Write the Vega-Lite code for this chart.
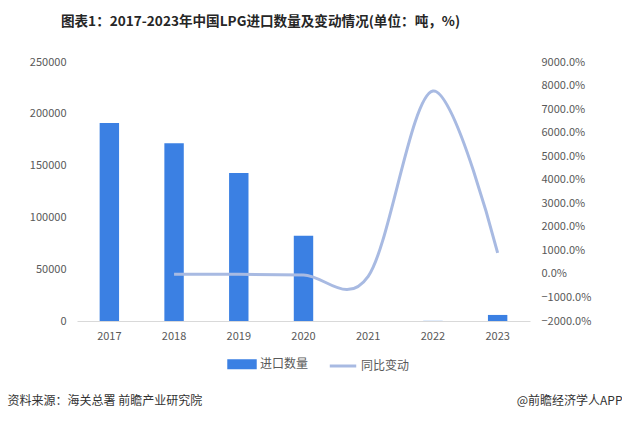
{
  "$schema": "https://vega.github.io/schema/vega-lite/v6.json",
  "autosize": "none",
  "width": 453,
  "height": 259,
  "padding": {"left": 77, "top": 62, "right": 92, "bottom": 101},
  "background": "white",
  "config": {
    "view": {"stroke": null},
    "font": "Noto Sans CJK SC",
    "axis": {"labelFont": "Noto Sans CJK SC", "labelColor": "#595959", "labelFontSize": 11, "grid": false, "ticks": false, "domain": false}
  },
  "title": {
    "text": "图表1：2017-2023年中国LPG进口数量及变动情况(单位：吨，%)",
    "anchor": "middle",
    "frame": "group",
    "dx": -43,
    "offset": 27,
    "fontSize": 13.6,
    "fontWeight": "bold",
    "color": "#262626",
    "font": "Noto Sans CJK SC"
  },
  "data": {
    "values": [
      {"year": "2017", "qty": 191000, "yoy": null},
      {"year": "2018", "qty": 171500, "yoy": -10.2},
      {"year": "2019", "qty": 142800, "yoy": -16.7},
      {"year": "2020", "qty": 82400, "yoy": -42.3},
      {"year": "2021", "qty": 7.5, "yoy": -99.99},
      {"year": "2022", "qty": 150, "yoy": 7770},
      {"year": "2023", "qty": 5850, "yoy": 890}
    ]
  },
  "layer": [
    {
      "mark": {"type": "bar", "width": {"band": 0.3}},
      "encoding": {
        "x": {
          "field": "year", "type": "ordinal",
          "scale": {"paddingInner": 0, "paddingOuter": 0},
          "axis": {
            "labelAngle": 0, "domain": true, "domainColor": "#d9d9d9", "labelPadding": 9,
            "title": "资料来源：海关总署 前瞻产业研究院",
            "titleFont": "Noto Sans CJK SC", "titleFontSize": 12, "titleFontWeight": "normal", "titleColor": "#333333",
            "titleAnchor": null, "titleAlign": "left", "titleBaseline": "middle", "titleX": -70, "titleY": 79
          }
        },
        "y": {
          "field": "qty", "type": "quantitative",
          "scale": {"domain": [0, 250000], "nice": false},
          "axis": {"values": [0, 50000, 100000, 150000, 200000, 250000], "format": "d", "labelPadding": 11, "title": null}
        },
        "color": {
          "datum": "进口数量",
          "scale": {"domain": ["进口数量", "同比变动"], "range": ["#3b80e3", "#a8bae2"]},
          "legend": {
            "orient": "none", "legendX": 150, "legendY": 287, "direction": "horizontal", "title": null,
            "symbolSize": 700, "labelFontSize": 12, "labelColor": "#595959",
            "labelFont": "Noto Sans CJK SC", "columnPadding": 14, "labelOffset": 3,
            "encode": {
              "symbols": {
                "update": {
                  "shape": {"signal": "datum.value === '进口数量' ? 'M-1,-0.26H1V0.26H-1Z' : 'stroke'"},
                  "stroke": {"signal": "datum.value === '进口数量' ? 'transparent' : '#a8bae2'"},
                  "strokeWidth": {"value": 3},
                  "fill": {"signal": "datum.value === '进口数量' ? '#3b80e3' : 'transparent'"},
                  "opacity": {"value": 1}
                }
              }
            }
          }
        }
      }
    },
    {
      "mark": {"type": "line", "interpolate": "cardinal", "tension": 0, "strokeWidth": 3},
      "transform": [{"filter": "datum.yoy != null"}],
      "encoding": {
        "x": {"field": "year", "type": "ordinal"},
        "y": {
          "field": "yoy", "type": "quantitative",
          "scale": {"domain": [-2000, 9000], "nice": false},
          "axis": {
            "orient": "right",
            "values": [-2000, -1000, 0, 1000, 2000, 3000, 4000, 5000, 6000, 7000, 8000, 9000],
            "labelExpr": "format(datum.value, '.1f') + '%'",
            "labelPadding": 11,
            "title": "@前瞻经济学人APP",
            "titleFont": "Noto Sans CJK SC", "titleFontSize": 12, "titleFontWeight": "normal", "titleColor": "#333333",
            "titleAngle": 0, "titleAnchor": null, "titleAlign": "right", "titleBaseline": "middle", "titleX": 92, "titleY": 338
          }
        },
        "color": {"datum": "同比变动"}
      }
    }
  ],
  "resolve": {"scale": {"y": "independent"}}
}
